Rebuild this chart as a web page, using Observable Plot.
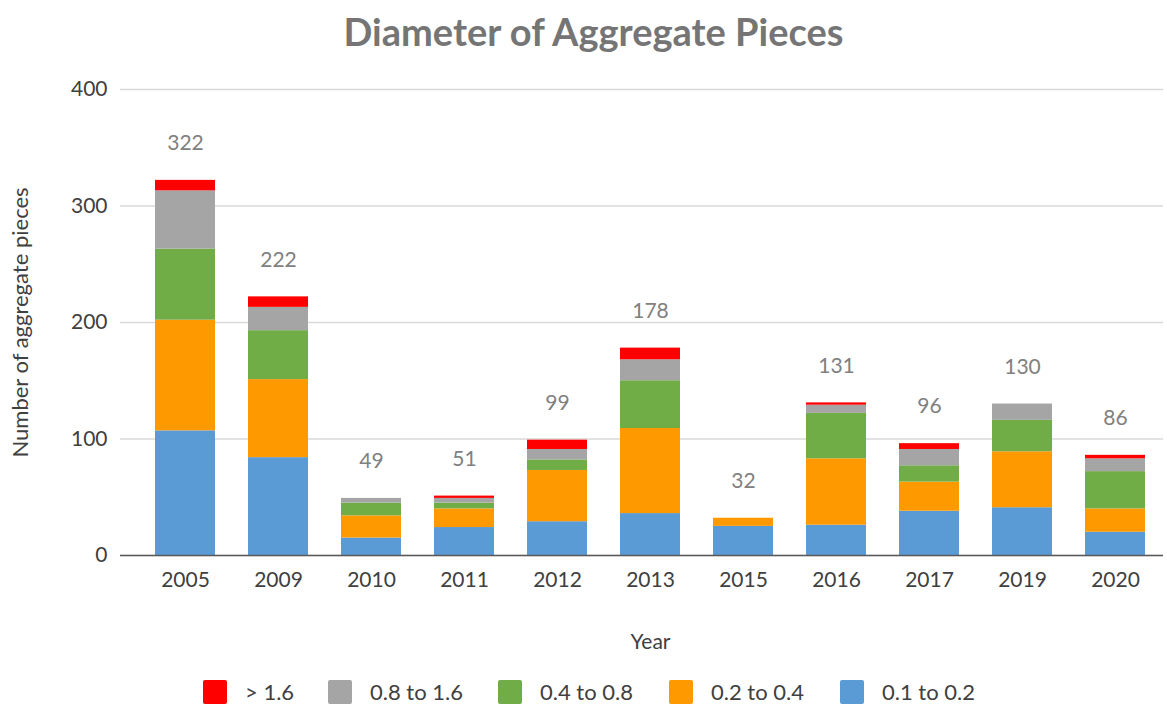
<!DOCTYPE html>
<html>
<head>
<meta charset="utf-8">
<script src="https://cdn.jsdelivr.net/npm/d3@7"></script>
<script src="https://cdn.jsdelivr.net/npm/@observablehq/plot@0.6"></script>
<style>
  html, body { margin: 0; padding: 0; background: #fff; }
  body { width: 1167px; height: 704px; overflow: hidden; font-family: Lato, "Open Sans", sans-serif; }
  #title { height: 64px; line-height: 62px; text-align: center; font-size: 38px; font-weight: bold; color: #757575; padding-left: 20px; }
  #legend { display: flex; align-items: center; padding-left: 203px; height: 24px; margin-top: 4px; font-size: 22px; line-height: 24px; color: #404040; }
  .item { display: flex; align-items: center; height: 24px; }
  .sw { width: 24px; height: 24px; margin-right: 18px; border-radius: 2px; flex: none; }
</style>
</head>
<body>
<div id="title">Diameter of Aggregate Pieces</div>
<div id="chart"></div>
<div id="legend"></div>
<script>
const years = ["2005","2009","2010","2011","2012","2013","2015","2016","2017","2019","2020"];
const seriesNames = ["0.1 to 0.2","0.2 to 0.4","0.4 to 0.8","0.8 to 1.6","> 1.6"];
const seriesColors = ["#5B9BD5","#FF9900","#70AD47","#A5A5A5","#FF0000"];
const v01to02 = [107, 84, 15, 24, 29, 36, 25, 26, 38, 41, 20];
const v02to04 = [95, 67, 19, 16, 44, 73, 7, 57, 25, 48, 20];
const v04to08 = [61, 42, 11, 5, 9, 41, 0, 39, 14, 27, 32];
const v08to16 = [50, 20, 4, 4, 9, 18, 0, 7, 14, 14, 11];
const vOver16 = [9, 9, 0, 2, 8, 10, 0, 2, 5, 0, 3];
const totals = [322, 222, 49, 51, 99, 178, 32, 131, 96, 130, 86];
const yTicks = [0, 100, 200, 300, 400];

const seriesValues = [v01to02, v02to04, v04to08, v08to16, vOver16];
const rows = [];
seriesNames.forEach((s, si) => {
  years.forEach((yr, i) => rows.push({year: yr, series: s, value: seriesValues[si][i]}));
});
const totalRows = years.map((yr, i) => ({year: yr, total: totals[i]}));

const chart = Plot.plot({
  width: 1167,
  height: 612,
  marginLeft: 137,
  marginRight: 4,
  marginTop: 25,
  marginBottom: 121,
  style: {fontFamily: "Lato, 'Open Sans', sans-serif", fontSize: "21px", color: "#404040", background: "#fff"},
  x: {domain: years, paddingInner: 0.356, paddingOuter: 0.178, label: null},
  y: {domain: [0, 400], ticks: yTicks, label: null},
  color: {domain: seriesNames, range: seriesColors},
  marks: [
    Plot.ruleY(yTicks, {stroke: "#d9d9d9", strokeWidth: 1.5, insetLeft: -17}),
    Plot.barY(rows, {x: "year", y: "value", fill: "series", order: seriesNames}),
    Plot.ruleY([0], {stroke: "#595959", strokeWidth: 1.5, insetLeft: -17}),
    Plot.text(totalRows, {x: "year", y: "total", text: d => String(d.total), dy: -37, fill: "#808080", fontSize: 21}),
    Plot.axisX({tickSize: 0, tickPadding: 17, fontSize: 21, label: null}),
    Plot.axisY({ticks: yTicks, tickSize: 0, tickPadding: 30, fontSize: 21, label: null}),
    Plot.text(["Year"], {frameAnchor: "bottom", dy: 93, fontSize: 21, fill: "#404040"}),
    Plot.text(["Number of aggregate pieces"], {frameAnchor: "left", textAnchor: "middle", dx: -117, rotate: -90, fontSize: 22, fill: "#404040"})
  ]
});
document.getElementById("chart").appendChild(chart);

const legend = document.getElementById("legend");
const legendWidths = [125, 170, 171, 171, 140];
[...seriesNames].reverse().forEach((s, k) => {
  const idx = seriesNames.indexOf(s);
  const item = document.createElement("div");
  item.className = "item";
  item.style.width = legendWidths[k] + "px";
  const sw = document.createElement("div");
  sw.className = "sw";
  sw.style.background = seriesColors[idx];
  const label = document.createElement("span");
  label.textContent = s;
  item.appendChild(sw);
  item.appendChild(label);
  legend.appendChild(item);
});
</script>
</body>
</html>
